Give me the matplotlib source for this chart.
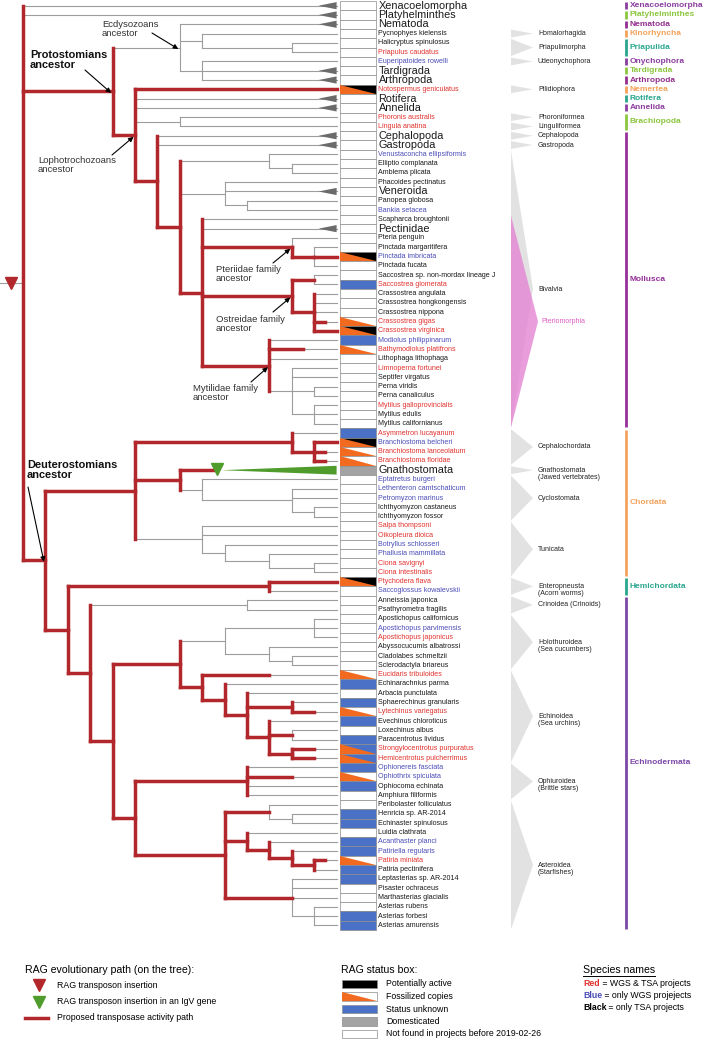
import matplotlib.pyplot as plt
from matplotlib.patches import Polygon, Rectangle

plt.rcParams['font.family'] = ['Liberation Sans', 'DejaVu Sans']

# ---------------- data ----------------
species = [
    'Xenacoelomorpha', 'Platyhelminthes', 'Nematoda', 'Pycnophyes kielensis',
    'Halicryptus spinulosus', 'Priapulus caudatus', 'Euperipatoides rowelli',
    'Tardigrada', 'Arthropoda', 'Notospermus geniculatus', 'Rotifera', 'Annelida',
    'Phoronis australis', 'Lingula anatina', 'Cephalopoda', 'Gastropoda',
    'Venustaconcha ellipsiformis', 'Elliptio complanata', 'Amblema plicata',
    'Phacoides pectinatus', 'Veneroida', 'Panopea globosa', 'Bankia setacea',
    'Scapharca broughtonii', 'Pectinidae', 'Pteria penguin', 'Pinctada margaritifera',
    'Pinctada imbricata', 'Pinctada fucata', 'Saccostrea sp. non-mordax lineage J',
    'Saccostrea glomerata', 'Crassostrea angulata', 'Crassostrea hongkongensis',
    'Crassostrea nippona', 'Crassostrea gigas', 'Crassostrea virginica',
    'Modiolus philippinarum', 'Bathymodiolus platifrons', 'Lithophaga lithophaga',
    'Limnoperna fortunei', 'Septifer virgatus', 'Perna viridis', 'Perna canaliculus',
    'Mytilus galloprovincialis', 'Mytilus edulis', 'Mytilus californianus',
    'Asymmetron lucayanum', 'Branchiostoma belcheri', 'Branchiostoma lanceolatum',
    'Branchiostoma floridae', 'Gnathostomata', 'Eptatretus burgeri',
    'Lethenteron camtschaticum', 'Petromyzon marinus', 'Ichthyomyzon castaneus',
    'Ichthyomyzon fossor', 'Salpa thompsoni', 'Oikopleura dioica',
    'Botryllus schlosseri', 'Phallusia mammillata', 'Ciona savignyi',
    'Ciona intestinalis', 'Ptychodera flava', 'Saccoglossus kowalevskii',
    'Anneissia japonica', 'Psathyrometra fragilis', 'Apostichopus californicus',
    'Apostichopus parvimensis', 'Apostichopus japonicus', 'Abyssocucumis albatrossi',
    'Cladolabes schmeltzii', 'Sclerodactyla briareus', 'Eucidaris tribuloides',
    'Echinarachnius parma', 'Arbacia punctulata', 'Sphaerechinus granularis',
    'Lytechinus variegatus', 'Evechinus chloroticus', 'Loxechinus albus',
    'Paracentrotus lividus', 'Strongylocentrotus purpuratus',
    'Hemicentrotus pulcherrimus', 'Ophionereis fasciata', 'Ophiothrix spiculata',
    'Ophiocoma echinata', 'Amphiura filiformis', 'Peribolaster folliculatus',
    'Henricia sp. AR-2014', 'Echinaster spinulosus', 'Luidia clathrata',
    'Acanthaster planci', 'Patiriella regularis', 'Patiria miniata',
    'Patiria pectinifera', 'Leptasterias sp. AR-2014', 'Pisaster ochraceus',
    'Marthasterias glacialis', 'Asterias rubens', 'Asterias forbesi',
    'Asterias amurensis',
]

# r = WGS & TSA projects, b = only WGS, k = only TSA (10 rows per string)
name_src = list('kkkkkrbkkr' 'kkrrkkbkkk' 'kkbkkkkbkk' 'rkkkrrbrkr' 'kkkrkkrbrr'
                'kbbbkkrrbb' 'rrrbkkkbrk' 'kkrkkkrkkk' 'rrbbkkkkkk' 'bbrkkkkkkk')

# RAG status box: w none, b unknown, g domesticated, o fossil,
# a fossil + active, u fossil + unknown (10 rows per string)
status = list('wwwwwwwwwa' 'wwwwwwwwww' 'wwwwwwwaww' 'bwwwoaboww' 'wwwwwwbaoo'
              'gwwwwwwwww' 'wwawwwwwww' 'wwobwbobwb' 'uubobwwbbw' 'bbobbwwwbb')

collapsed = [0, 1, 2, 7, 8, 10, 11, 14, 15, 20, 24]

# cladogram: node -> (depth level, children); ints are species rows
tree = {
    'root': (0, [0, 1, 'proto', 'deut']),
    'proto': (4, ['ecdy', 'lopho']),
    'ecdy': (7, [2, 'scal', 'panar']),
    'scal': (8, [3, 'priap']),
    'priap': (12, [4, 5]),
    'panar': (8, [6, 7, 8]),
    'lopho': (5, [9, 10, 11, 'brach', 'moll']),
    'brach': (7, [12, 13]),
    'moll': (6, [14, 15, 'biv']),
    'biv': (7, ['palaeo', 'hetero', 'pterio']),
    'palaeo': (11, [16, 'unio']),
    'unio': (12, [17, 18]),
    'hetero': (9, [19, 20, 'hetero2']),
    'hetero2': (10, [21, 22]),
    'pterio': (8, [23, 24, 'pteriid', 'ostre', 'mytil']),
    'pteriid': (12, [25, 'pinct']),
    'pinct': (13, [26, 27, 28]),
    'ostre': (12, ['sacco', 'crass']),
    'sacco': (13, [29, 30]),
    'crass': (13, [31, 32, 33, 34, 35]),
    'mytil': (11, [36, 37, 38, 'mytil2']),
    'mytil2': (12, [39, 40, 'perna', 'mytilus']),
    'perna': (13, [41, 42]),
    'mytilus': (13, [43, 44, 45]),
    'deut': (1, ['chord', 'ambul']),
    'chord': (5, ['cephch', 'vert', 'tunic']),
    'cephch': (12, [46, 'branch']),
    'branch': (13, [47, 48, 49]),
    'vert': (7, [50, 'cyclo']),
    'cyclo': (8, [51, 'lamp']),
    'lamp': (12, [52, 53, 'ichthy']),
    'ichthy': (13, [54, 55]),
    'tunic': (8, [56, 57, 'tun2']),
    'tun2': (9, [58, 'tun3']),
    'tun3': (11, [59, 'ciona']),
    'ciona': (13, [60, 61]),
    'ambul': (2, ['hemi', 'echino']),
    'hemi': (11, [62, 63]),
    'echino': (3, ['crin', 'eleuth']),
    'crin': (10, [64, 65]),
    'eleuth': (4, ['echinozoa', 'asterozoa']),
    'echinozoa': (7, ['holo', 'echinoid']),
    'holo': (9, ['apost', 'holo2']),
    'apost': (13, [66, 67, 68]),
    'holo2': (11, [69, 'holo3']),
    'holo3': (12, [70, 71]),
    'echinoid': (8, [72, 'euech']),
    'euech': (9, [73, 'eu2']),
    'eu2': (10, [74, 'lyt', 'eu3']),
    'lyt': (12, [75, 76]),
    'eu3': (11, [77, 'parac', 'strong']),
    'parac': (12, [78, 79]),
    'strong': (12, [80, 81]),
    'asterozoa': (5, ['ophiu', 'aster']),
    'ophiu': (10, [82, 83, 84, 85]),
    'aster': (9, ['aster1', 'valv', 'forc']),
    'aster1': (11, [86, 'aster1b']),
    'aster1b': (12, [87, 88]),
    'valv': (10, [89, 'valv2']),
    'valv2': (11, [90, 'valv3']),
    'valv3': (12, [91, 'patiria']),
    'patiria': (13, [92, 93]),
    'forc': (12, [94, 95, 96, 'asterias']),
    'asterias': (13, [97, 98, 99]),
}

# proposed transposase path: nodes with red verticals, and red edges
# (value = depth the red reaches, None = whole branch)
red_nodes = ['root', 'proto', 'lopho', 'moll', 'biv', 'pterio', 'pteriid', 'ostre',
             'crass', 'mytil', 'deut', 'chord', 'cephch', 'branch', 'vert', 'ambul',
             'hemi', 'echino', 'eleuth', 'echinozoa', 'echinoid', 'euech', 'eu2',
             'lyt', 'eu3', 'strong', 'asterozoa', 'ophiu', 'aster', 'valv', 'valv2',
             'valv3', 'patiria']
red_edges = {
    'proto': None, 'deut': None, 'lopho': None, 9: None, 'moll': None, 'biv': None,
    'pterio': None, 'pteriid': None, 'pinct': None, 27: None, 'ostre': None,
    'sacco': None, 'crass': None, 34: 13.5, 35: None, 'mytil': None, 37: 12.5,
    'chord': None, 'cephch': None, 'branch': None, 47: None, 48: 13.5, 49: 13.5,
    'vert': None, 50: 8.67, 'ambul': None, 'hemi': None, 62: None, 'echino': None,
    'eleuth': None, 'echinozoa': None, 'echinoid': None, 72: 11, 'euech': None,
    'eu2': None, 'lyt': None, 76: 13, 'eu3': None, 'parac': None, 'strong': None,
    80: 13, 81: 13, 'asterozoa': None, 'ophiu': None, 83: 12, 'aster': None,
    'aster1': None, 'valv': None, 'valv2': None, 'valv3': None, 'patiria': None,
    92: 13.5, 'forc': None,
}

phyla = ['Xenacoelomorpha', 'Platyhelminthes', 'Nematoda', 'Kinorhyncha', 'Priapulida',
         'Onychophora', 'Tardigrada', 'Arthropoda', 'Nemertea', 'Rotifera', 'Annelida',
         'Brachiopoda', 'Mollusca', 'Chordata', 'Hemichordata', 'Echinodermata']
phyla_rows = [(0, 0), (1, 1), (2, 2), (3, 3), (4, 5), (6, 6), (7, 7), (8, 8), (9, 9),
              (10, 10), (11, 11), (12, 13), (14, 45), (46, 61), (62, 63), (64, 99)]
phyla_colors = ['#8b3d9f', '#8cc63f', '#93308f', '#f4a25a', '#2aa68e', '#8b3d9f',
                '#8cc63f', '#93308f', '#f4a25a', '#2aa68e', '#8b3d9f', '#8cc63f',
                '#96309a', '#f2a35e', '#2aa68e', '#7c48a6']

groups = ['Homalorhagida', 'Priapulimorpha', 'Udeonychophora', 'Pilidiophora',
          'Phoroniformea', 'Linguliformea', 'Cephalopoda', 'Gastropoda', 'Bivalvia',
          'Cephalochordata', 'Gnathostomata\n(Jawed vertebrates)', 'Cyclostomata',
          'Tunicata', 'Enteropneusta\n(Acorn worms)', 'Crinoidea (Crinoids)',
          'Holothuroidea\n(Sea cucumbers)', 'Echinoidea\n(Sea urchins)',
          'Ophiuroidea\n(Brittle stars)', 'Asteroidea\n(Starfishes)']
groups_rows = [(3, 3), (4, 5), (6, 6), (9, 9), (12, 12), (13, 13), (14, 14), (15, 15),
               (16, 45), (46, 49), (50, 50), (51, 55), (56, 61), (62, 63), (64, 65),
               (66, 71), (72, 81), (82, 85), (86, 99)]
pterio_rows = (23, 45)

ancestors = ['ecdy', 'proto', 'lopho', 'pteriid', 'ostre', 'mytil', 'deut']
ancestor_labels = ['Ecdysozoans\nancestor', 'Protostomians\nancestor',
                   'Lophotrochozoans\nancestor', 'Pteriidae family\nancestor',
                   'Ostreidae family\nancestor', 'Mytilidae family\nancestor',
                   'Deuterostomians\nancestor']

# ---------------- layout ----------------
X0, DX, LEAF = 23, 22.4, 14
Y0, DY = 5.7, 9.29
GRAY = '#9d9d9d'
RED = '#b2272b'
GREEN = '#4f9c2c'
ORANGE = '#f26a1f'
BLUE = '#4a71c6'
NAME_COL = {'r': '#e2322e', 'b': '#4b4db8', 'k': '#1a1a1a'}
BOX_X0, BOX_X1 = 340, 376


def xl(level):
    return X0 + level * DX


def yr(row):
    return Y0 + row * DY


rowpos = {}


def node_row(n):
    if isinstance(n, int):
        return n
    if n not in rowpos:
        kids = tree[n][1]
        rowpos[n] = (node_row(kids[0]) + node_row(kids[-1])) / 2
    return rowpos[n]


fig = plt.figure(figsize=(7.09, 10.40), dpi=100)
ax = fig.add_axes([0, 0, 1, 1])
ax.set_xlim(0, 709)
ax.set_ylim(1040, 0)
ax.axis('off')

# ---- tree ----
red_lw = 2.5
for name, (lev, kids) in tree.items():
    r0, r1 = node_row(kids[0]), node_row(kids[-1])
    ax.plot([xl(lev)] * 2, [yr(r0), yr(r1)], color=GRAY, lw=0.8, zorder=2)
    if name in red_nodes:
        if name == 'pteriid':
            r0 = node_row(name)
        ax.plot([xl(lev)] * 2, [yr(r0), yr(r1)], color=RED, lw=red_lw,
                solid_capstyle='projecting', zorder=4)
    for k in kids:
        klev = LEAF if isinstance(k, int) else tree[k][0]
        y = yr(node_row(k))
        if k != 50:
            ax.plot([xl(lev), xl(klev)], [y, y], color=GRAY, lw=0.8, zorder=2)
        if k in red_edges:
            stop = klev if red_edges[k] is None else red_edges[k]
            ax.plot([xl(lev), xl(stop)], [y, y], color=RED, lw=red_lw,
                    solid_capstyle='projecting', zorder=4)

# root stub with insertion marker
yroot = yr(node_row('root'))
ax.plot([0, X0], [yroot, yroot], color=GRAY, lw=0.8)
ax.plot(11, yroot, marker='v', ms=8, color=RED, zorder=5)

# collapsed clades
for r in collapsed:
    y = yr(r)
    ax.add_patch(Polygon([(xl(LEAF) - 18, y), (xl(LEAF), y - 3.6), (xl(LEAF), y + 3.6)],
                         closed=True, color='#6b6b6b', lw=0, zorder=3))

# Gnathostomata wedge (IgV insertion)
yg = yr(50)
ax.add_patch(Polygon([(xl(8.85), yg), (xl(LEAF), yg - 4.4), (xl(LEAF), yg + 4.4)],
                     closed=True, color=GREEN, lw=0, zorder=3))
ax.plot(xl(8.67), yg - 1.2, marker='v', ms=8, color=GREEN, zorder=5)


# ---- status boxes ----
def draw_box(x0, x1, yc, h, code):
    top, bot = yc - h / 2, yc + h / 2
    bg = {'w': 'white', 'b': BLUE, 'g': '#a3a3a3', 'o': 'white', 'a': 'black',
          'u': BLUE, 'k': 'black'}[code]
    ax.add_patch(Rectangle((x0, top), x1 - x0, h, facecolor=bg, edgecolor='#8c8c8c',
                           lw=0.5, zorder=3))
    if code in 'oau':
        ax.add_patch(Polygon([(x0, top), (x0, bot), (x1, bot)], closed=True,
                             color=ORANGE, lw=0, zorder=3.5))


for i, code in enumerate(status):
    draw_box(BOX_X0, BOX_X1, yr(i), DY, code)

# ---- species names ----
for i, name in enumerate(species):
    big = i in collapsed or i == 50
    ax.text(BOX_X1 + 2.5, yr(i), name, fontsize=7.8 if big else 5.1,
            color=NAME_COL[name_src[i]], va='center', ha='left')

# ---- subgroup triangles ----
GX0, GX1 = 511, 533
for label, (a, b) in zip(groups, groups_rows):
    ya, yb = yr(a) - 0.42 * DY, yr(b) + 0.42 * DY
    yc = (yr(a) + yr(b)) / 2
    ax.add_patch(Polygon([(GX0, ya), (GX0, yb), (GX1, yc)], closed=True,
                         color='#e2e2e2', lw=0, zorder=1))
    if '\n' in label:
        ax.text(GX1 + 5, yc + 0.4 * DY, label, fontsize=5, va='center',
                ha='left', color='#222222', linespacing=1.05)
    else:
        ax.text(GX1 + 5, yc, label, fontsize=5, va='center', ha='left',
                color='#222222')

a, b = pterio_rows
yc = (yr(a) + yr(b)) / 2
ax.add_patch(Polygon([(GX0, yr(a) - 0.4 * DY), (GX0, yr(b) + 0.42 * DY), (GX1 + 5, yc)],
                     closed=True, color='#e585d3', alpha=0.8, lw=0, zorder=1.5))
ax.text(GX1 + 8, yc, 'Pteriomorphia', fontsize=5, va='center', ha='left',
        color='#dd5cc0')

# ---- phylum bars ----
for label, (a, b), c in zip(phyla, phyla_rows, phyla_colors):
    ax.plot([626, 626], [yr(a) - 0.38 * DY, yr(b) + 0.38 * DY], color=c, lw=2,
            solid_capstyle='butt')
    ax.text(629.5, (yr(a) + yr(b)) / 2, label, fontsize=6, fontweight='bold',
            color=c, va='center', ha='left')

# ---- ancestor annotations ----
text_pos = [(102, 20), (30, 50), (38, 156), (216, 265), (216, 315), (193, 384),
            (27, 460)]
arrow_tail = [(152, 33), (85, 70), (112, 155), (273, 263), (273, 312), (251, 382),
              (28, 487)]
for node, lab, tp, tail in zip(ancestors, ancestor_labels, text_pos, arrow_tail):
    bold = node in ('proto', 'deut')
    ax.text(tp[0], tp[1], lab, fontsize=7.9 if bold else 6.8,
            fontweight='bold' if bold else 'normal', va='top', ha='left',
            color='#111111' if bold else '#333333', linespacing=1.0, zorder=6)
    tip = (xl(tree[node][0]) - 1.5, yr(node_row(node)) + 1.5)
    ax.annotate('', xy=tip, xytext=tail,
                arrowprops=dict(arrowstyle='-|>', color='black', lw=0.8,
                                mutation_scale=7, shrinkA=0, shrinkB=0), zorder=6)

# ---- legends ----
ax.text(25, 970, 'RAG evolutionary path (on the tree):', fontsize=7.6,
        va='center', ha='left')
ax.plot(39, 985, marker='v', ms=8, color=RED)
ax.text(57, 985, 'RAG transposon insertion', fontsize=6.3, va='center')
ax.plot(39, 1002, marker='v', ms=8, color=GREEN)
ax.text(57, 1002, 'RAG transposon insertion in an IgV gene', fontsize=6.3, va='center')
ax.plot([25, 48], [1018, 1018], color=RED, lw=red_lw)
ax.text(57, 1018, 'Proposed transposase activity path', fontsize=6.3, va='center')

ax.text(341, 970, 'RAG status box:', fontsize=7.6, va='center', ha='left')
legend_codes = ['k', 'o', 'b', 'g', 'w']
legend_texts = ['Potentially active', 'Fossilized copies', 'Status unknown',
                'Domesticated', 'Not found in projects before 2019-02-26']
for j, (code, lab) in enumerate(zip(legend_codes, legend_texts)):
    yc = 984 + j * 12.5
    draw_box(342, 377, yc, 8.5, code)
    ax.text(386, yc, lab, fontsize=6.3, va='center')

title = ax.text(583, 970, 'Species names', fontsize=7.6, va='center', ha='left')
src_words = ['Red', 'Blue', 'Black']
src_rest = [' = WGS & TSA projects', ' = only WGS projejects', ' = only TSA projects']
src_cols = [NAME_COL['r'], NAME_COL['b'], 'black']
fig.canvas.draw()
rend = fig.canvas.get_renderer()
inv = ax.transData.inverted()
for j, (w, rest, c) in enumerate(zip(src_words, src_rest, src_cols)):
    yc = 984 + j * 11.5
    t = ax.text(583, yc, w, fontsize=6.3, fontweight='bold', color=c, va='center')
    bb = t.get_window_extent(rend)
    xend = inv.transform((bb.x1, bb.y0))[0]
    ax.text(xend, yc, rest, fontsize=6.3, va='center')

bb = title.get_window_extent(rend)
(x0, y0), (x1, _) = inv.transform((bb.x0, bb.y0)), inv.transform((bb.x1, bb.y0))
ax.plot([x0, x1], [y0 + 0.5, y0 + 0.5], color='black', lw=0.7)

fig.savefig('out.png', dpi=100)
